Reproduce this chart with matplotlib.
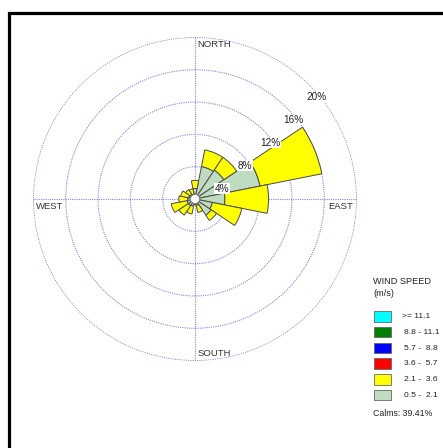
import numpy as np
import matplotlib
matplotlib.use("Agg")
import matplotlib.pyplot as plt
from matplotlib.lines import Line2D
from matplotlib.patches import Rectangle, Circle

plt.rcParams['font.family'] = ['Liberation Sans', 'DejaVu Sans']

# ---- data ----
directions = ["N", "NNE", "NE", "ENE", "E", "ESE", "SE", "SSE",
              "S", "SSW", "SW", "WSW", "W", "WNW", "NW", "NNW"]
bearings = np.arange(16) * 22.5
speed_05_21 = [1.3, 4.1, 4.3, 8.2, 3.7, 2.2, 2.4, 0.8, 0.4, 0.9, 1.0, 1.0, 0.9, 0.8, 0.7, 0.6]
speed_21_36 = [1.0, 2.1, 1.9, 7.8, 5.4, 3.7, 0.8, 0.9, 0.3, 1.0, 1.4, 2.0, 1.1, 1.0, 0.7, 0.7]
ring_values = [4, 8, 12, 16, 20]
ring_labels = ["4%", "8%", "12%", "16%", "20%"]
legend_labels = [">= 11.1", "8.8 - 11.1", "5.7 -  8.8", "3.6 -  5.7", "2.1 -  3.6", "0.5 -  2.1"]
legend_colors = ["#00ffff", "#008000", "#0000ff", "#ff0000", "#ffff00", "#c0dcc0"]
calms_text = "Calms: 39.41%"
compass = [("NORTH", 0), ("EAST", 90), ("SOUTH", 180), ("WEST", 270)]

W, H = 443, 448
fig = plt.figure(figsize=(W / 100, H / 100), dpi=100)

cx, cy, R = 195, 199, 162
ax = fig.add_axes([(cx - R) / W, (H - cy - R) / H, 2 * R / W, 2 * R / H], projection='polar')
ax.set_theta_zero_location('N')
ax.set_theta_direction(-1)
ax.set_ylim(0, 20.05)

theta = np.deg2rad(bearings)
width = np.deg2rad(22.5)
ax.bar(theta, speed_05_21, width=width, bottom=0, color=legend_colors[5],
       edgecolor='#4a4a4a', linewidth=0.7, zorder=3)
ax.bar(theta, speed_21_36, width=width, bottom=speed_05_21, color=legend_colors[4],
       edgecolor='#4a4a4a', linewidth=0.7, zorder=3)

ax.add_patch(Circle((0.5, 0.5), 4.5 / (2 * R), transform=ax.transAxes,
                    facecolor='white', edgecolor='#777777', linewidth=0.5, zorder=4))

grid_kw = dict(color='#8888d4', linestyle=(0, (1, 1)), linewidth=0.8)
ax.set_rgrids(ring_values, labels=[''] * len(ring_values))
ax.set_thetagrids([0, 90, 180, 270], labels=[''] * 4)
ax.grid(True, **grid_kw)
ax.spines['polar'].set_visible(False)
ax.tick_params(length=0)

px = 0.72  # points per pixel
for v, lab in zip(ring_values, ring_labels):
    ax.annotate(lab, xy=(np.deg2rad(45), v), xytext=(-3 * px, -7.5 * px),
                textcoords='offset points', ha='left', va='top', fontsize=7.2,
                color='#222222', zorder=6,
                bbox=dict(facecolor='white', edgecolor='none', pad=0.3))

offsets = {"NORTH": ((2.5, -2.5), 'left', 'top'),
           "EAST": ((-3, -3), 'right', 'top'),
           "SOUTH": ((2.5, 2.5), 'left', 'bottom'),
           "WEST": ((3, -3), 'left', 'top')}
for name, b in compass:
    (dx, dy), ha, va = offsets[name]
    ax.annotate(name, xy=(np.deg2rad(b), 20), xytext=(dx * px, dy * px),
                textcoords='offset points', ha=ha, va=va, fontsize=6.8,
                color='#333333', zorder=6)

# frame
fig.add_artist(Line2D([9 / W, 9 / W, 1.0], [0.0, 1 - 13.3 / H, 1 - 13.3 / H],
                      transform=fig.transFigure, color='black', linewidth=2.3,
                      solid_joinstyle='miter'))

# legend
fig.text(373 / W, 1 - 281.5 / H, "WIND SPEED", fontsize=6.6, ha='left', va='center', color='#222222')
fig.text(373 / W, 1 - 293.5 / H, "(m/s)", fontsize=6.6, ha='left', va='center', color='#222222')
box_top0 = 311
step = 15.75
for i, (lab, col) in enumerate(zip(legend_labels, legend_colors)):
    top = box_top0 + i * step
    fig.add_artist(Rectangle((373.5 / W, 1 - (top + 10.7) / H), 17 / W, 10.7 / H,
                             transform=fig.transFigure, facecolor=col,
                             edgecolor='#666666', linewidth=0.6))
    x = 401.5 if i == 0 else 404
    fig.text(x / W, 1 - (top + 5.5) / H, lab, fontsize=6.1, ha='left', va='center', color='#222222')
fig.text(373 / W, 1 - 413.5 / H, calms_text, fontsize=6.3, ha='left', va='center', color='#222222')

fig.savefig("out.png", dpi=100, facecolor='white')
